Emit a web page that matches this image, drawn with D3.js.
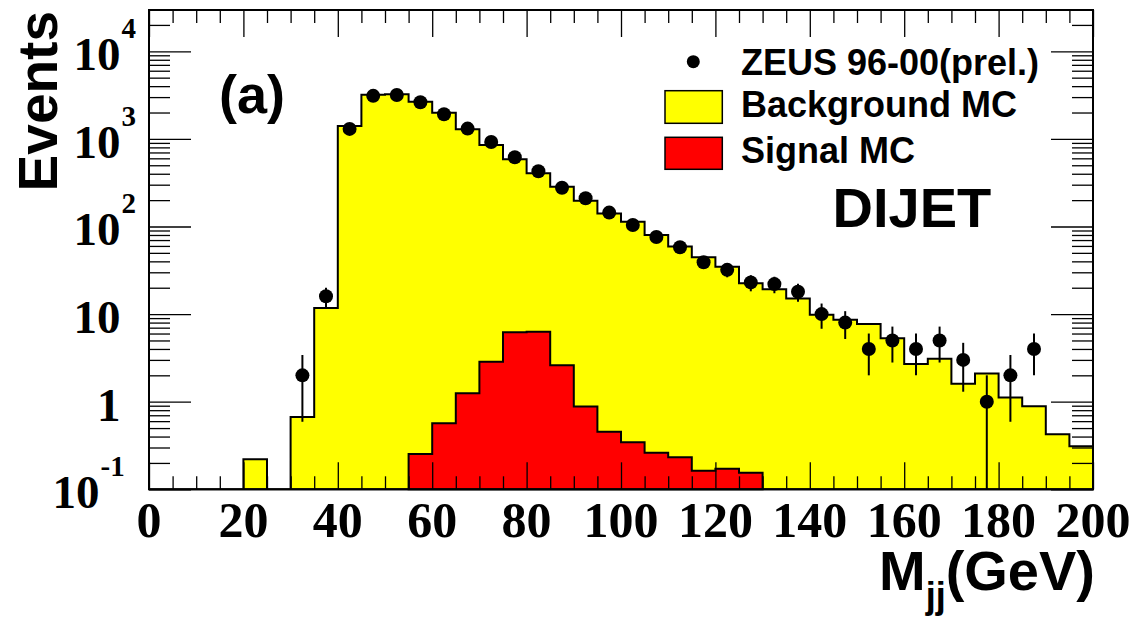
<!DOCTYPE html>
<html><head><meta charset="utf-8">
<script src="https://cdn.jsdelivr.net/npm/d3@7"></script>
<style>html,body{margin:0;padding:0;background:#fff;} svg{display:block}</style>
</head><body><svg id="c" width="1133" height="617"></svg>
<script>
// ---- data ----
const binEdgesStart = 0, binEdgesEnd = 200, binWidth = 5;
const background = [0,0,0,0,0.22,0,0.67,11.7,1400,3200,3230,2660,1990,1290,850,585,405,285,197,141,
  113,80,59,44.5,34.8,22.5,19.2,15.1,9.8,8.6,7.7,5.3,2.7,3.1,1.6,2.1,1.12,0.89,0.425,0.31];
const signal = [0,0,0,0,0,0,0,0,0,0,0,0.253,0.567,1.25,2.86,6.2,6.3,2.6,0.88,0.455,
  0.344,0.262,0.232,0.163,0.172,0.155,0,0,0,0,0,0,0,0,0,0,0,0,0,0];
const dataX = [32.5,37.5,42.5,47.5,52.5,57.5,62.5,67.5,72.5,77.5,82.5,87.5,92.5,97.5,102.5,107.5,
  112.5,117.5,122.5,127.5,132.5,137.5,142.5,147.5,152.5,157.5,162.5,167.5,172.5,177.5,182.5,187.5];
const dataY = [2,16,1300,3100,3170,2620,1910,1310,920,617,427,277,210,144,104,76,
  58,39,32,23,22,18,10,8,4,5,4,5,3,1,2,4];
const dataErr = [1.41,4,36,56,56,51,44,36,30,25,21,17,14.5,12,10.2,8.7,
  7.6,6.2,5.7,4.8,4.7,4.2,3.2,2.8,2,2.2,2,2.2,1.7,1,1.41,2];
const xTickMajor = [0,20,40,60,80,100,120,140,160,180,200];
const yTickLabels = [
  {v:0.1, base:"10", exp:"-1"},
  {v:1, base:"1", exp:null},
  {v:10, base:"10", exp:null},
  {v:100, base:"10", exp:"2"},
  {v:1000, base:"10", exp:"3"},
  {v:10000, base:"10", exp:"4"}
];
const legendItems = ["ZEUS 96-00(prel.)", "Background MC", "Signal MC"];

// ---- layout ----
const L = 149, R = 1093, T = 10, B = 489.3;
const svg = d3.select("#c");
const x = d3.scaleLinear().domain([0,200]).range([L,R]);
const y = d3.scaleLog().domain([0.1, 29600]).range([B,T]);
const yv = v => v > 0.1 ? y(v) : B;

const edges = d3.range(binEdgesStart, binEdgesEnd, binWidth);
function stepPts(vals){
  const pts = [[x(0), B]];
  vals.forEach((v,i)=>{ pts.push([x(edges[i]), yv(v)]); pts.push([x(edges[i]+binWidth), yv(v)]); });
  pts.push([x(200), B]);
  return pts;
}
const line = d3.line();
svg.append("path").attr("d", line(stepPts(background))+"Z")
  .attr("fill","#ffff00").attr("stroke","#000").attr("stroke-width",2).attr("stroke-linejoin","miter");
// signal only in its nonzero range
const sPts = [];
signal.forEach((v,i)=>{ if(v>0){ sPts.push([x(edges[i]), yv(v)]); sPts.push([x(edges[i]+binWidth), yv(v)]);} });
const firstS = signal.findIndex(v=>v>0), lastS = signal.length-1-[...signal].reverse().findIndex(v=>v>0);
const sPath = [[x(edges[firstS]),B], ...sPts, [x(edges[lastS]+binWidth),B]];
svg.append("path").attr("d", line(sPath)+"Z")
  .attr("fill","#ff0000").attr("stroke","#000").attr("stroke-width",2);

// ---- axes ticks ----
const minorX = d3.range(0,201,5).filter(v=>v%20!==0);
const gAx = svg.append("g");
gAx.append("g").attr("transform",`translate(0,${B})`)
  .call(d3.axisBottom(x).tickValues(xTickMajor).tickSize(-27).tickFormat(""));
gAx.append("g").attr("transform",`translate(0,${B})`)
  .call(d3.axisBottom(x).tickValues(minorX).tickSize(-13).tickFormat(""));
gAx.append("g").attr("transform",`translate(0,${T})`)
  .call(d3.axisTop(x).tickValues(xTickMajor).tickSize(-27).tickFormat(""));
gAx.append("g").attr("transform",`translate(0,${T})`)
  .call(d3.axisTop(x).tickValues(minorX).tickSize(-13).tickFormat(""));
const yMaj = [0.1,1,10,100,1000,10000];
const yMin = [];
[0.1,1,10,100,1000,10000].forEach(d=>{ for(let k=2;k<=9;k++){ const v=d*k; if(v<=29600) yMin.push(v);} });
gAx.append("g").attr("transform",`translate(${L},0)`)
  .call(d3.axisLeft(y).tickValues(yMaj).tickSize(-42).tickFormat(""));
gAx.append("g").attr("transform",`translate(${L},0)`)
  .call(d3.axisLeft(y).tickValues(yMin).tickSize(-21).tickFormat(""));
gAx.append("g").attr("transform",`translate(${R},0)`)
  .call(d3.axisRight(y).tickValues(yMaj).tickSize(-42).tickFormat(""));
gAx.append("g").attr("transform",`translate(${R},0)`)
  .call(d3.axisRight(y).tickValues(yMin).tickSize(-21).tickFormat(""));
gAx.selectAll(".domain").remove();
gAx.selectAll(".tick line").attr("stroke","#000").attr("stroke-width",1.3);

// ---- data points ----
const gD = svg.append("g");
dataX.forEach((cx,i)=>{
  const v = dataY[i], e = dataErr[i];
  gD.append("line").attr("x1",x(cx)).attr("x2",x(cx))
    .attr("y1", yv(v+e)).attr("y2", yv(v-e))
    .attr("stroke","#000").attr("stroke-width",2);
  gD.append("circle").attr("cx",x(cx)).attr("cy",y(v)).attr("r",7).attr("fill","#000");
});

// ---- frame ----
svg.append("rect").attr("x",L).attr("y",T).attr("width",R-L).attr("height",B-T)
  .attr("fill","none").attr("stroke","#000").attr("stroke-width",2);

// ---- tick labels ----
const serif = "'Liberation Serif','Times New Roman',serif";
const sans = "'Liberation Sans',Arial,Helvetica,sans-serif";
svg.append("g").selectAll("text").data(xTickMajor).join("text")
  .attr("x", d=>x(d)).attr("y", 537).attr("text-anchor","middle")
  .attr("font-family",serif).attr("font-weight","bold").attr("font-size",50)
  .text(d=>d);
const gY = svg.append("g").attr("font-family",serif).attr("font-weight","bold");
yTickLabels.forEach(t=>{
  const by = y(t.v) + 19;
  const baseEnd = (t.exp === "-1") ? 99.5 : 120.5;
  gY.append("text").attr("x",baseEnd).attr("y",by).attr("text-anchor","end")
    .attr("font-size",47).text(t.base);
  if(t.exp){
    gY.append("text").attr("x",baseEnd+1).attr("y",by-32).attr("text-anchor","start")
      .attr("font-size",29).text(t.exp);
  }
});

// ---- titles ----
svg.append("text").attr("transform","translate(57,11) rotate(-90)")
  .attr("text-anchor","end").attr("font-family",sans).attr("font-weight","bold")
  .attr("font-size",55).text("Events");
const xt = svg.append("text").attr("x",1095).attr("y",590).attr("text-anchor","end")
  .attr("font-family",sans).attr("font-weight","bold").attr("font-size",56);
xt.append("tspan").text("M");
xt.append("tspan").attr("dy",18).attr("font-size",36).text("jj");
xt.append("tspan").attr("dy",-18).text("(GeV)");

svg.append("text").attr("x",219).attr("y",113).attr("font-family",sans).attr("font-weight","bold")
  .attr("font-size",54).text("(a)");
svg.append("text").attr("x",832.5).attr("y",227).attr("font-family",sans).attr("font-weight","bold")
  .attr("font-size",56).text("DIJET");

// ---- legend ----
const gL = svg.append("g").attr("font-family",sans).attr("font-weight","bold").attr("font-size",36);
gL.append("circle").attr("cx",693.3).attr("cy",61.7).attr("r",6.5).attr("fill","#000");
gL.append("rect").attr("x",665).attr("y",90.7).attr("width",57.3).attr("height",32.6)
  .attr("fill","#ffff00").attr("stroke","#000").attr("stroke-width",1.5);
gL.append("rect").attr("x",665).attr("y",137.3).attr("width",57.3).attr("height",32)
  .attr("fill","#ff0000").attr("stroke","#000").attr("stroke-width",1.5);
const lBase = [75, 117, 163];
legendItems.forEach((s,i)=>{
  gL.append("text").attr("x",741).attr("y",lBase[i]).text(s);
});
</script>
</body></html>
